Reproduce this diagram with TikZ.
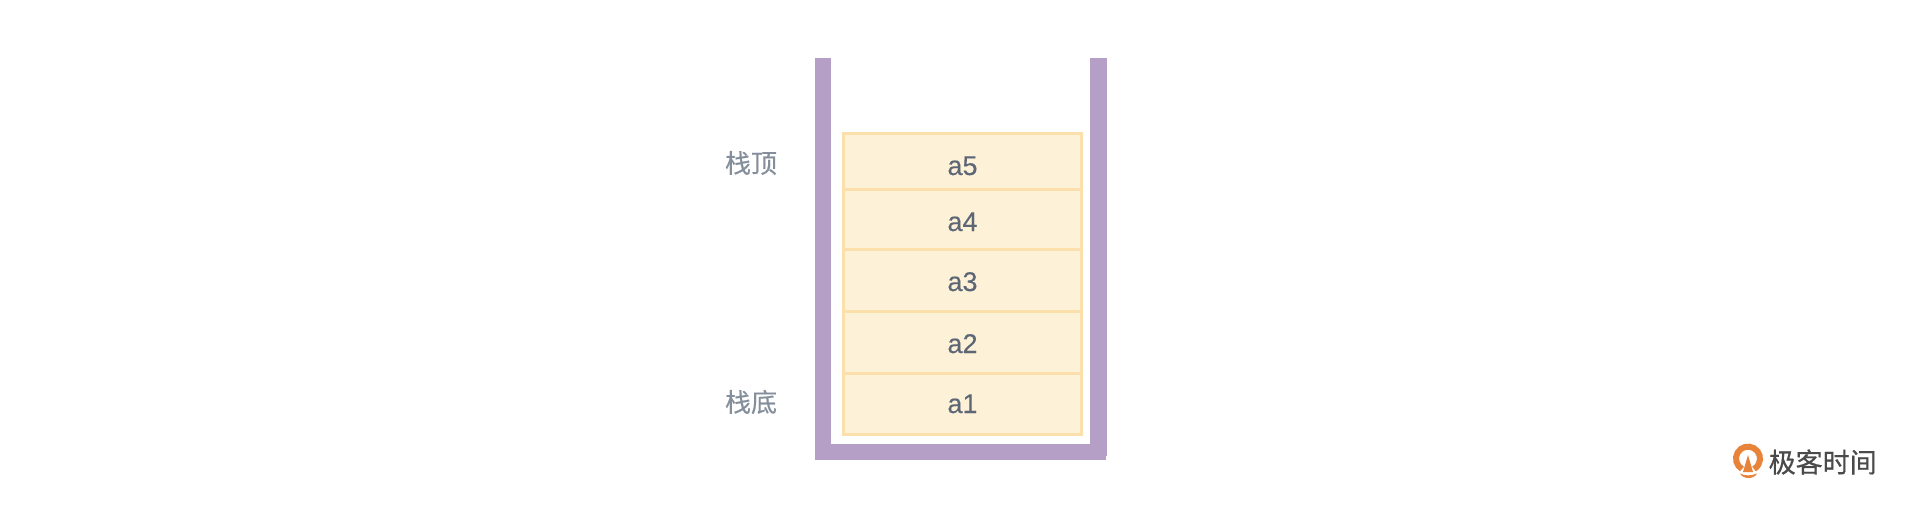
\documentclass[tikz,border=0pt]{standalone}
\usepackage{fontspec}
\setmainfont{Liberation Sans}
\newfontfamily\latinmed[FakeBold=0.2]{Liberation Sans}
\newfontfamily\cjk[FakeBold=0.3]{Noto Sans CJK SC}
\newfontfamily\cjkbold[FakeBold=0.6]{Noto Sans CJK SC}
\definecolor{wall}{HTML}{B59FC6}
\definecolor{cellfill}{HTML}{FDF1D8}
\definecolor{cellline}{HTML}{FBE0AB}
\definecolor{celltext}{HTML}{5C6674}
\definecolor{sidetext}{HTML}{858F9C}
\definecolor{logoorange}{HTML}{E8843A}
\definecolor{logotext}{HTML}{4A4A4A}
\tikzset{
  wallbar/.style={fill=wall,draw=none},
  cell/.style={draw=cellline,fill=cellfill,line width=3pt,inner sep=0pt,minimum width=238.5pt,anchor=north west},
  celllabel/.style={text=celltext,font=\latinmed\fontsize{27}{27}\selectfont,anchor=base,inner sep=0pt},
  sidelabel/.style={text=sidetext,font=\cjk\fontsize{26}{26}\selectfont,inner sep=0pt},
}
\begin{document}
\begin{tikzpicture}[x=1pt,y=-1pt]
\useasboundingbox (0,0) rectangle (1920,504);
\fill[white] (0,0) rectangle (1920,504);
% container
\fill[wallbar] (814.5,58) rectangle (831,460);
\fill[wallbar] (1090,58) rectangle (1107,456);
\fill[wallbar] (814.5,444) rectangle (1106,460);
% cells
\node[cell,minimum height=56.5pt] (c5) at (841.5,131.5) {};
\node[cell,minimum height=59.5pt] (c4) at (841.5,188) {};
\node[cell,minimum height=62pt] (c3) at (841.5,247.5) {};
\node[cell,minimum height=62.7pt] (c2) at (841.5,309.5) {};
\node[cell,minimum height=61pt] (c1) at (841.5,372.2) {};
% labels
\node[celllabel] (t5) at (962.5,175) {a5};
\node[celllabel] (t4) at (962.5,231) {a4};
\node[celllabel] (t3) at (962.5,291) {a3};
\node[celllabel] (t2) at (962.5,353) {a2};
\node[celllabel] (t1) at (962.5,413) {a1};
\node[sidelabel] (top) at (751,163) {栈顶};
\node[sidelabel] (bot) at (751,402) {栈底};
% logo
\draw[logoorange,line width=6pt] (1742,469) arc[start angle=120,delta angle=300,radius=12];
\fill[logoorange] (1748,455) -- (1753,472) -- (1743,472) -- cycle;
\fill[logoorange] (1740,473.5) .. controls (1745,476) and (1751,476) .. (1757,473.5) .. controls (1754,479.5) and (1743,479.5) .. (1740,473.5) -- cycle;
\node[text=logotext,font=\cjkbold\fontsize{27}{27}\selectfont,inner sep=0pt] (logo) at (1822.7,462) {极客时间};
\end{tikzpicture}
\end{document}
